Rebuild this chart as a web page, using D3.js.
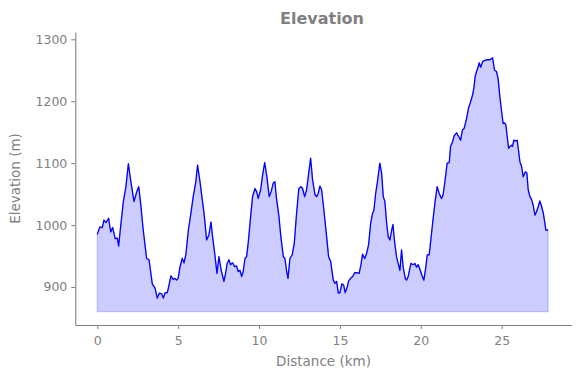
<!DOCTYPE html>
<html>
<head>
<meta charset="utf-8">
<script src="https://cdn.jsdelivr.net/npm/d3@7"></script>
<style>
  body { margin: 0; background: #fff; }
  svg { font-family: "DejaVu Sans", sans-serif; }
</style>
</head>
<body>
<div id="chart"></div>
<script>
// distance along the route (km)
const distance = [0, 0.1, 0.17, 0.31, 0.41, 0.54, 0.70, 0.83, 0.95, 1.11, 1.24, 1.32, 1.42, 1.61, 1.77, 1.92, 2.06, 2.27, 2.44, 2.56, 2.68, 2.84, 3.05, 3.2, 3.4, 3.57, 3.71, 3.83, 3.98, 4.08, 4.2, 4.33, 4.45, 4.55, 4.7, 4.8, 4.9, 5.0, 5.1, 5.25, 5.36, 5.48, 5.63, 5.77, 5.93, 6.08, 6.2, 6.35, 6.49, 6.6, 6.76, 6.9, 7.03, 7.13, 7.27, 7.4, 7.52, 7.66, 7.83, 7.93, 8.03, 8.14, 8.24, 8.37, 8.49, 8.61, 8.71, 8.82, 8.92, 9.02, 9.13, 9.23, 9.33, 9.48, 9.6, 9.75, 9.85, 9.95, 10.1, 10.22, 10.35, 10.47, 10.63, 10.75, 10.88, 10.98, 11.08, 11.23, 11.35, 11.5, 11.6, 11.7, 11.79, 11.91, 12.05, 12.18, 12.32, 12.46, 12.59, 12.69, 12.82, 12.94, 13.07, 13.19, 13.31, 13.46, 13.56, 13.66, 13.76, 13.87, 14.01, 14.18, 14.3, 14.43, 14.59, 14.69, 14.8, 14.9, 15.0, 15.12, 15.23, 15.33, 15.45, 15.54, 15.66, 15.79, 15.91, 16.03, 16.19, 16.3, 16.4, 16.53, 16.65, 16.77, 16.9, 17.02, 17.1, 17.21, 17.31, 17.47, 17.58, 17.68, 17.78, 17.89, 17.99, 18.09, 18.2, 18.28, 18.38, 18.5, 18.6, 18.71, 18.81, 18.91, 19.04, 19.12, 19.22, 19.39, 19.53, 19.64, 19.74, 19.84, 19.94, 20.07, 20.19, 20.31, 20.4, 20.52, 20.6, 20.73, 20.87, 21.01, 21.14, 21.28, 21.38, 21.49, 21.63, 21.76, 21.84, 21.97, 22.06, 22.21, 22.34, 22.46, 22.58, 22.68, 22.83, 22.95, 23.08, 23.2, 23.28, 23.36, 23.45, 23.55, 23.61, 23.71, 23.82, 23.96, 24.1, 24.27, 24.44, 24.56, 24.68, 24.78, 24.89, 25.01, 25.09, 25.18, 25.26, 25.34, 25.43, 25.51, 25.61, 25.67, 25.75, 25.86, 25.96, 26.05, 26.13, 26.23, 26.33, 26.46, 26.56, 26.64, 26.75, 26.85, 26.95, 27.06, 27.16, 27.26, 27.36, 27.47, 27.57, 27.67, 27.73, 27.87];

// elevation at each distance (m)
const elevation = [985, 993, 997, 996, 1008, 1004, 1011, 989, 996, 978, 979, 966, 992, 1038, 1062, 1099, 1073, 1038, 1054, 1062, 1035, 992, 946, 944, 905, 898, 882, 890, 889, 882, 891, 891, 905, 918, 912, 914, 911, 914, 931, 946, 939, 953, 992, 1016, 1046, 1068, 1097, 1070, 1041, 1019, 976, 984, 1005, 981, 952, 922, 949, 927, 909, 922, 938, 944, 936, 939, 933, 934, 925, 927, 917, 925, 946, 949, 971, 1014, 1046, 1059, 1054, 1043, 1057, 1081, 1101, 1081, 1046, 1054, 1068, 1070, 1043, 1014, 981, 949, 946, 927, 914, 946, 952, 971, 1019, 1059, 1062, 1059, 1046, 1057, 1084, 1108, 1073, 1049, 1046, 1051, 1063, 1057, 1024, 981, 949, 941, 911, 906, 909, 890, 891, 905, 903, 891, 900, 910, 914, 917, 923, 923, 922, 936, 953, 946, 954, 968, 1003, 1019, 1024, 1051, 1068, 1100, 1084, 1046, 1038, 1003, 981, 976, 992, 1001, 973, 949, 938, 927, 960, 932, 914, 911, 917, 938, 936, 938, 932, 936, 929, 919, 911, 932, 952, 952, 971, 1003, 1035, 1062, 1051, 1043, 1049, 1070, 1100, 1101, 1127, 1135, 1144, 1149, 1143, 1137, 1154, 1156, 1172, 1189, 1199, 1210, 1221, 1240, 1248, 1256, 1262, 1255, 1264, 1266, 1267, 1267, 1270, 1250, 1248, 1237, 1207, 1181, 1164, 1165, 1162, 1143, 1124, 1127, 1129, 1127, 1137, 1136, 1137, 1119, 1102, 1095, 1078, 1086, 1084, 1057, 1046, 1041, 1032, 1016, 1022, 1030, 1039, 1030, 1020, 1003, 992, 992];

const fillBase = 860;
const xTicks = [0, 5, 10, 15, 20, 25];
const yTicks = [900, 1000, 1100, 1200, 1300];

const width = 580;
const height = 378;
const grey = "#808080";

const points = distance.map((d, i) => ({ d: d, e: elevation[i] }));

const svg = d3.select("#chart")
    .append("svg")
    .attr("width", width)
    .attr("height", height);

const x = d3.scaleLinear().domain([-1.36, 29.33]).range([75.3, 571.7]);
const y = d3.scaleLinear().domain([838.6, 1311.8]).range([325, 32]);

// filled area under the profile
const area = d3.area()
    .x(p => x(p.d))
    .y0(y(fillBase))
    .y1(p => y(p.e));

svg.append("path")
    .datum(points)
    .attr("d", area)
    .attr("fill", "rgb(204,204,255)")
    .attr("stroke", "rgba(0,0,255,0.2)")
    .attr("stroke-width", 1.2);

// elevation line
const line = d3.line()
    .x(p => x(p.d))
    .y(p => y(p.e));

svg.append("path")
    .datum(points)
    .attr("d", line)
    .attr("fill", "none")
    .attr("stroke", "#0000ff")
    .attr("stroke-width", 1.3)
    .attr("stroke-linejoin", "round");

// axes
const xAxis = svg.append("g")
    .attr("transform", `translate(0,${325})`)
    .call(d3.axisBottom(x).tickValues(xTicks).tickFormat(d3.format("d"))
        .tickSize(4).tickPadding(4).tickSizeOuter(0));

const yAxis = svg.append("g")
    .attr("transform", `translate(${75.3},0)`)
    .call(d3.axisLeft(y).tickValues(yTicks).tickFormat(d3.format("d"))
        .tickSize(4).tickPadding(4).tickSizeOuter(0));

[xAxis, yAxis].forEach(g => {
    g.select(".domain").attr("stroke", grey).attr("stroke-width", 1.1);
    g.selectAll(".tick line").attr("stroke", grey).attr("stroke-width", 1);
    g.selectAll(".tick text")
        .attr("fill", grey)
        .attr("font-size", "12.5px")
        .attr("font-family", "DejaVu Sans, sans-serif");
});
xAxis.selectAll(".tick text").attr("dy", "0.95em");

// labels
svg.append("text")
    .attr("x", 323.5)
    .attr("y", 366)
    .attr("text-anchor", "middle")
    .attr("fill", grey)
    .attr("font-size", "13.5px")
    .text("Distance (km)");

svg.append("text")
    .attr("transform", `translate(${20},${178.5}) rotate(-90)`)
    .attr("text-anchor", "middle")
    .attr("fill", grey)
    .attr("font-size", "13.5px")
    .text("Elevation (m)");

svg.append("text")
    .attr("x", 322)
    .attr("y", 24)
    .attr("text-anchor", "middle")
    .attr("fill", grey)
    .attr("font-size", "16px")
    .attr("font-weight", "bold")
    .text("Elevation");
</script>
</body>
</html>
